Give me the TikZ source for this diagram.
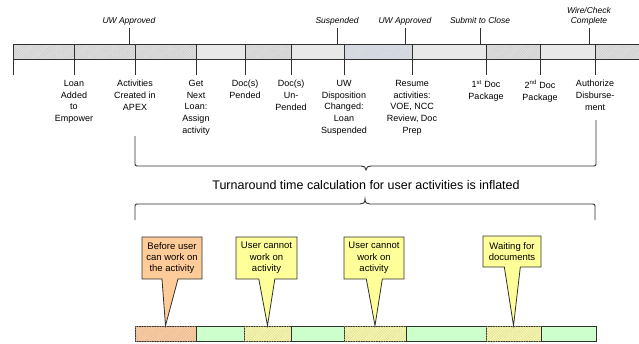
\documentclass[tikz,border=0pt]{standalone}
\usepackage{fontspec}
\setmainfont{Liberation Sans}
\usetikzlibrary{shapes.callouts,patterns.meta}
\definecolor{lineC}{HTML}{303030}
\definecolor{segGray}{HTML}{DEDEDE}
\definecolor{segPlain}{HTML}{E8E8E8}
\definecolor{segBlue}{HTML}{D8DEE8}
\definecolor{orangeC}{HTML}{FFCC99}
\definecolor{yellowC}{HTML}{FFFF99}
\definecolor{greenC}{HTML}{CCFFCC}
\definecolor{orangeH}{HTML}{F8CCA4}
\definecolor{yellowH}{HTML}{F6F6B2}
\definecolor{orangeP}{HTML}{E6B48C}
\definecolor{yellowP}{HTML}{DADA8C}
\begin{document}
\begin{tikzpicture}[x=1pt,y=-1pt,
  hatch/.style={postaction={pattern={Lines[angle=45,distance=1.8pt,line width=0.3pt]},pattern color=#1}},
  tick/.style={draw=lineC,line width=0.9pt},
  lbl/.style={font=\fontsize{9}{11.7}\selectfont,align=center,anchor=north,inner sep=0pt},
  mile/.style={font=\fontsize{8.5}{10}\selectfont\itshape,align=center,inner sep=0pt},
  bseg/.style={draw=lineC,line width=0.8pt,inner sep=0pt,minimum height=15pt},
  callbox/.style={rectangle callout,draw=lineC,line width=0.8pt,inner sep=0pt,align=center,
    font=\fontsize{9.5}{11.3}\selectfont,callout pointer width=16pt},
  brace/.style={draw=lineC,line width=0.9pt}]
\useasboundingbox (0,0) rectangle (639,343);
% ---------- top bar ----------
\fill[segGray,hatch=gray!45] (13,44) rectangle (74,59);
\fill[segGray,hatch=gray!45] (74,44) rectangle (135,59);
\fill[segGray,hatch=gray!45] (135,44) rectangle (196,59);
\fill[segPlain] (196,44) rectangle (245,59);
\fill[segGray,hatch=gray!45] (245,44) rectangle (291,59);
\fill[segPlain] (291,44) rectangle (344,59);
\fill[segBlue,hatch=gray!40] (344,44) rectangle (412,59);
\fill[segPlain] (412,44) rectangle (486,59);
\fill[segGray,hatch=gray!45] (486,44) rectangle (540,59);
\fill[segPlain] (540,44) rectangle (595,59);
\fill[segGray,hatch=gray!45] (595,44) rectangle (639,59);
\draw[tick] (13,44) -- (639,44);
\draw[tick] (13,59) -- (639,59);
% dividers
\foreach \n/\x in {0/13,1/74,2/135,3/196,4/245,5/291,6/344,7/412,8/486,9/540,10/595}{
  \coordinate (d\n) at (\x,44);
  \coordinate (e\n) at (\x,75);
  \draw[tick] (d\n) -- (e\n);
}
% milestone ticks above
\foreach \n/\x in {1/129,2/337,3/405,4/480,5/589}{
  \coordinate (mt\n) at (\x,28);
  \coordinate (mb\n) at (\x,44);
  \draw[tick] (mt\n) -- (mb\n);
}
\node[mile,anchor=base] (m1) at (129,23) {UW Approved};
\node[mile,anchor=base] (m2) at (337,23) {Suspended};
\node[mile,anchor=base] (m3) at (405,23) {UW Approved};
\node[mile,anchor=base] (m4) at (480,23) {Submit to Close};
\node[mile,anchor=south] (m5) at (589,25) {Wire/Check\\Complete};
% labels below
\node[lbl] (l1) at (74,80) {Loan\\Added\\to\\Empower};
\node[lbl] (l2) at (135,80) {Activities\\Created in\\APEX};
\node[lbl] (l3) at (196,80) {Get\\Next\\Loan:\\Assign\\activity};
\node[lbl] (l4) at (245,80) {Doc(s)\\Pended};
\node[lbl] (l5) at (291,80) {Doc(s)\\Un-\\Pended};
\node[lbl] (l6) at (344,80) {UW\\Disposition\\Changed:\\Loan\\Suspended};
\node[lbl] (l7) at (412,80) {Resume\\activities:\\VOE, NCC\\Review, Doc\\Prep};
\node[lbl] (l8) at (486,80) {1\textsuperscript{st} Doc\\Package};
\node[lbl] (l9) at (540,80) {2\textsuperscript{nd} Doc\\Package};
\node[lbl] (l10) at (595,80) {Authorize\\Disburse-\\ment};
% ---------- braces ----------
\coordinate (ub1) at (135,136);
\coordinate (ub2) at (596,120);
\draw[brace] (ub1) -- (135,162) .. controls (135,166) .. (139,166) -- (361,166)
  .. controls (364,166) and (366,167) .. (366,170)
  .. controls (366,167) and (368,166) .. (371,166) -- (592,166)
  .. controls (596,166) .. (596,162) -- (ub2);
\node[font=\fontsize{12.5}{14}\selectfont,inner sep=0pt] (msg) at (366,185) {Turnaround time calculation for user activities is inflated};
\coordinate (lb1) at (135,220);
\coordinate (lb2) at (595,220);
\draw[brace] (lb1) -- (135,208) .. controls (135,204) .. (139,204) -- (360,204)
  .. controls (363,204) and (365,203) .. (365,199)
  .. controls (365,203) and (367,204) .. (370,204) -- (591,204)
  .. controls (595,204) .. (595,208) -- (lb2);
% ---------- bottom bar ----------
\node[bseg,minimum width=61pt,fill=orangeH,hatch=orangeP] (s1) at (165.5,333.5) {};
\node[bseg,minimum width=48pt,fill=greenC] (s2) at (220,333.5) {};
\node[bseg,minimum width=47pt,fill=yellowH,hatch=yellowP] (s3) at (267.5,333.5) {};
\node[bseg,minimum width=53pt,fill=greenC] (s4) at (317.5,333.5) {};
\node[bseg,minimum width=62pt,fill=yellowH,hatch=yellowP] (s5) at (375,333.5) {};
\node[bseg,minimum width=80pt,fill=greenC] (s6) at (446,333.5) {};
\node[bseg,minimum width=55pt,fill=yellowH,hatch=yellowP] (s7) at (513.5,333.5) {};
\node[bseg,minimum width=55pt,fill=greenC] (s8) at (568.5,333.5) {};
% ---------- callouts ----------
\node[callbox,fill=orangeC,minimum width=60pt,minimum height=42pt,callout absolute pointer={(s1.north)}] (c1) at (172,258) {Before user\\can work on\\the activity};
\node[callbox,fill=yellowC,minimum width=61pt,minimum height=42pt,callout absolute pointer={(s3.north)}] (c2) at (266.5,258) {User cannot\\work on\\activity};
\node[callbox,fill=yellowC,minimum width=60pt,minimum height=42pt,callout absolute pointer={(s5.north)}] (c3) at (374,258) {User cannot\\work on\\activity};
\node[callbox,fill=yellowC,minimum width=58pt,minimum height=31pt,callout absolute pointer={(s7.north)}] (c4) at (512,251.5) {Waiting for\\documents};
\end{tikzpicture}
\end{document}
